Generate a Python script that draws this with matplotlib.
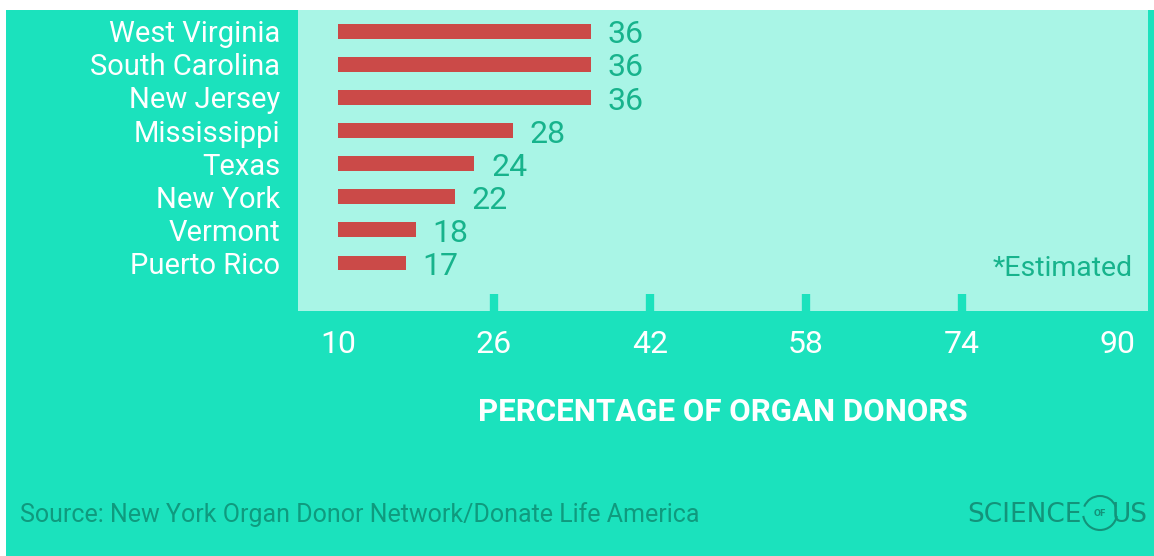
import matplotlib.pyplot as plt
from matplotlib.patches import Rectangle, Arc

# data
states = ['West Virginia', 'South Carolina', 'New Jersey', 'Mississippi',
          'Texas', 'New York', 'Vermont', 'Puerto Rico']
donors = [36, 36, 36, 28, 24, 22, 18, 17]
xticks = [10, 26, 42, 58, 74, 90]

TEAL = '#1be2bd'
LIGHT = '#a9f5e6'
RED = '#cb4a48'
VAL = '#17b38c'
DARK = '#0f9a7e'

W, H = 1154, 556
fig = plt.figure(figsize=(W / 100, H / 100), dpi=100)
fig.patch.set_facecolor('white')
fig.patches.append(Rectangle((6 / W, 0), 1, 1 - 10 / H, transform=fig.transFigure,
                             facecolor=TEAL, edgecolor='none', zorder=-5))

ax = fig.add_axes([298 / W, 1 - 311 / H, 850 / W, 301 / H])
ax.set_facecolor(LIGHT)
y = list(range(len(states)))
ax.barh(y, [d - 10 for d in donors], left=10, height=0.45, color=RED)
for yi, d in zip(y, donors):
    ax.text(d + 1.7, yi + 0.02, str(d), va='center_baseline', ha='left', fontsize=23,
            color=VAL, family='Roboto')
ax.text(0.982, 0.15, '*Estimated', transform=ax.transAxes, ha='right',
        va='center_baseline', fontsize=20.5, color=VAL, family='Roboto')

ax.set_xlim(5.9, 93.1)
ax.set_ylim(8.45, -0.64)
ax.set_yticks(y)
ax.set_yticklabels(states, fontsize=21, color='white', family='Roboto')
ax.tick_params(axis='y', length=0, pad=13)
for lab in ax.get_yticklabels():
    lab.set_verticalalignment('center_baseline')
ax.set_xticks(xticks)
ax.set_xticklabels([str(t) for t in xticks], fontsize=23, color='white', family='Roboto')
ax.tick_params(axis='x', direction='in', length=12, width=6, color=TEAL, pad=14)
for t in ax.xaxis.get_major_ticks():
    if t.get_loc() in (10, 90):
        t.tick1line.set_visible(False)
for s in ax.spines.values():
    s.set_visible(False)

ax.set_xlabel('PERCENTAGE OF ORGAN DONORS', fontsize=22.5, fontweight='bold',
              color='white', family='Roboto', labelpad=27)

fig.text(20 / W, 1 - 515 / H, 'Source: New York Organ Donor Network/Donate Life America',
         fontsize=18, color=DARK, va='center', ha='left', family='Roboto')

# logo
LOGO = '#13937a'
fig.text(1082 / W, 1 - 515 / H, 'SCIENCE', fontsize=19, color=LOGO, va='center',
         ha='right', family='DejaVu Sans')
fig.text(1100 / W, 1 - 513 / H, 'OF', fontsize=6, color=LOGO, va='center',
         ha='center', family='DejaVu Sans', fontweight='bold')
fig.text(1148 / W, 1 - 515 / H, 'US', fontsize=19, color=LOGO, va='center',
         ha='right', family='DejaVu Sans')
for t1, t2 in ((200, 340), (40, 140)):
    fig.patches.append(Arc((1100 / W, 1 - 513 / H), 34 / W, 34 / H, theta1=t1, theta2=t2,
                           transform=fig.transFigure, color=LOGO, lw=1.5))

fig.savefig('out.png', dpi=100)
